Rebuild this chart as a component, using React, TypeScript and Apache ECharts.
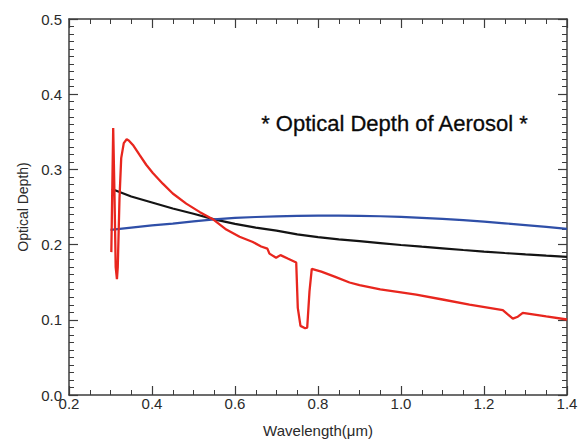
import React, { useEffect, useRef } from "react";
import * as echarts from "echarts";

// Wavelength (µm) and optical depth values
const blueX = [0.30, 0.35, 0.40, 0.45, 0.50, 0.55, 0.60, 0.65, 0.70, 0.75, 0.80, 0.85, 0.90, 0.95, 1.00, 1.05, 1.10, 1.15, 1.20, 1.25, 1.30, 1.35, 1.40];
const blueY = [0.2195, 0.2225, 0.2255, 0.228, 0.231, 0.2335, 0.2355, 0.2367, 0.2375, 0.2382, 0.2385, 0.2386, 0.2383, 0.2377, 0.2368, 0.2356, 0.2342, 0.2325, 0.2305, 0.2283, 0.226, 0.2235, 0.221];

const blackX = [0.303, 0.35, 0.40, 0.45, 0.50, 0.55, 0.60, 0.65, 0.70, 0.75, 0.80, 0.85, 0.90, 0.95, 1.00, 1.05, 1.10, 1.15, 1.20, 1.25, 1.30, 1.35, 1.40];
const blackY = [0.274, 0.264, 0.256, 0.248, 0.241, 0.2335, 0.2275, 0.2225, 0.2185, 0.2135, 0.210, 0.207, 0.2045, 0.202, 0.1995, 0.1972, 0.195, 0.1928, 0.1907, 0.1888, 0.187, 0.1853, 0.1837];

const redX = [0.302, 0.3065, 0.3095, 0.3125, 0.3155, 0.3175, 0.3217, 0.3258, 0.332, 0.339, 0.344, 0.354, 0.370, 0.386, 0.402, 0.426, 0.450, 0.4825, 0.5145, 0.5465, 0.579, 0.611, 0.643, 0.663, 0.678, 0.683, 0.699, 0.7096, 0.727, 0.7475, 0.7513, 0.7578, 0.769, 0.774, 0.7795, 0.785, 0.808, 0.84, 0.876, 0.90, 0.95, 1.00, 1.0366, 1.10, 1.165, 1.2453, 1.2573, 1.2694, 1.2815, 1.2935, 1.35, 1.40];
const redY = [0.190, 0.355, 0.27, 0.17, 0.154, 0.17, 0.262, 0.315, 0.335, 0.340, 0.3385, 0.3325, 0.3193, 0.3062, 0.2953, 0.281, 0.268, 0.2545, 0.2435, 0.2338, 0.2200, 0.2105, 0.2034, 0.1975, 0.1946, 0.188, 0.1824, 0.186, 0.1815, 0.1763, 0.1159, 0.0919, 0.0888, 0.0897, 0.1378, 0.1676, 0.164, 0.1575, 0.1496, 0.146, 0.1405, 0.1365, 0.1335, 0.127, 0.1203, 0.1129, 0.1072, 0.1015, 0.1041, 0.1093, 0.1045, 0.1004];

const xTicks = { min: 0.2, max: 1.4, interval: 0.2 };
const yTicks = { min: 0.0, max: 0.5, interval: 0.1 };
const titleText = "* Optical Depth of Aerosol *";
const xName = "Wavelength(μm)";
const yName = "Optical Depth)";

const FONT = "'Liberation Sans', Arial, Helvetica, sans-serif";
const AXIS = "#3c3c3c";

function pairs(xs: number[], ys: number[]) {
  return xs.map((x, i) => [x, ys[i]]);
}

export default function App() {
  const ref = useRef<HTMLDivElement>(null);
  useEffect(() => {
    const chart = echarts.init(ref.current!, null, { renderer: "svg" });
    const line = { show: true, onZero: false, lineStyle: { color: AXIS, width: 1.5 } };
    const tick = { show: true, inside: true, length: 9, lineStyle: { color: AXIS, width: 1.2 } };
    const label = { color: "#2a2a2a", fontSize: 15, fontFamily: FONT };
    chart.setOption({
      animation: false,
      backgroundColor: "#ffffff",
      grid: { left: 69, right: 16, top: 19, bottom: 43, containLabel: false },
      xAxis: [
        {
          type: "value", ...xTicks, position: "bottom",
          axisLine: line, axisTick: tick,
          minorTick: { show: true, splitNumber: 4, length: 5, lineStyle: { color: AXIS, width: 1 } },
          splitLine: { show: false }, minorSplitLine: { show: false },
          axisLabel: { ...label, margin: 1, formatter: (v: number) => v.toFixed(1) },
          name: xName, nameLocation: "middle", nameGap: 28,
          nameTextStyle: { color: "#2a2a2a", fontSize: 15, fontFamily: FONT },
        },
        {
          type: "value", ...xTicks, position: "top",
          axisLine: line, axisTick: tick,
          minorTick: { show: true, splitNumber: 4, length: 5, lineStyle: { color: AXIS, width: 1 } },
          splitLine: { show: false }, minorSplitLine: { show: false },
          axisLabel: { show: false },
        },
      ],
      yAxis: [
        {
          type: "value", ...yTicks, position: "left",
          axisLine: line, axisTick: tick,
          minorTick: { show: true, splitNumber: 10, length: 5, lineStyle: { color: AXIS, width: 1 } },
          splitLine: { show: false }, minorSplitLine: { show: false },
          axisLabel: { ...label, margin: 7, formatter: (v: number) => v.toFixed(1) },
          name: yName, nameLocation: "middle", nameGap: 38,
          nameTextStyle: { color: "#2a2a2a", fontSize: 14, fontFamily: FONT },
        },
        {
          type: "value", ...yTicks, position: "right",
          axisLine: line, axisTick: tick,
          minorTick: { show: true, splitNumber: 10, length: 5, lineStyle: { color: AXIS, width: 1 } },
          splitLine: { show: false }, minorSplitLine: { show: false },
          axisLabel: { show: false },
        },
      ],
      graphic: [
        {
          type: "text", left: 261, top: 112,
          style: { text: titleText, fill: "#0a0a0a", font: `22px ${FONT}`, stroke: "#0a0a0a", lineWidth: 0.3 },
        },
      ],
      series: [
        {
          type: "line", xAxisIndex: 0, yAxisIndex: 0, showSymbol: false, symbol: "none",
          data: pairs(blackX, blackY), lineStyle: { color: "#141414", width: 2.2 },
        },
        {
          type: "line", xAxisIndex: 0, yAxisIndex: 0, showSymbol: false, symbol: "none",
          data: pairs(blueX, blueY), lineStyle: { color: "#2f4fa8", width: 2.2 },
        },
        {
          type: "line", xAxisIndex: 0, yAxisIndex: 0, showSymbol: false, symbol: "none",
          data: pairs(redX, redY), lineStyle: { color: "#e8261e", width: 2.3 },
        },
      ],
    });
    return () => chart.dispose();
  }, []);
  return (
    <div
      ref={ref}
      style={{ position: "fixed", left: 0, top: 0, width: 583, height: 443, background: "#fff" }}
    />
  );
}
